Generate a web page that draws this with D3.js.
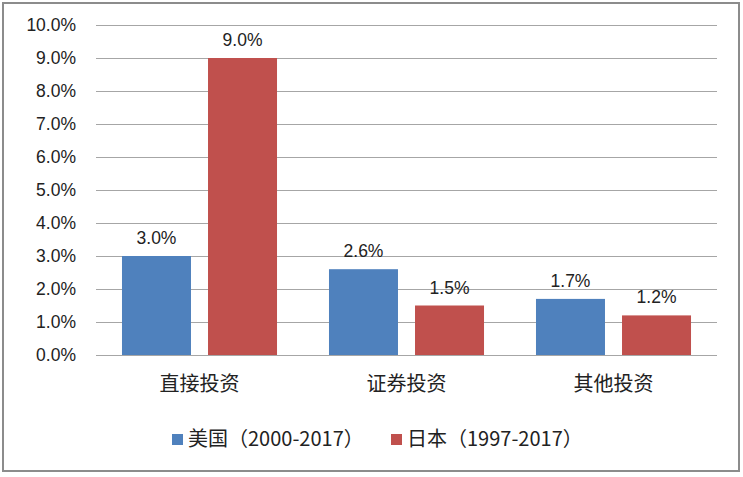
<!DOCTYPE html>
<html><head><meta charset="utf-8">
<script src="https://cdn.jsdelivr.net/npm/d3@7"></script>
<style>
html,body{margin:0;padding:0;background:#fff;}
svg{display:block;}
text{font-family:"Liberation Sans","Noto Sans CJK SC",sans-serif;fill:#222;}
</style></head>
<body>
<svg id="chart" width="743" height="477"></svg>
<script>
const categories = ["直接投资", "证券投资", "其他投资"];
const seriesNames = ["美国（2000-2017）", "日本（1997-2017）"];
const usValues = [3.0, 2.6, 1.7];
const jpValues = [9.0, 1.5, 1.2];
const yTicks = [0,1,2,3,4,5,6,7,8,9,10];
const colors = ["#4f81bd", "#c0504d"];

const svg = d3.select("#chart");
const W = 743, H = 477;
// outer border
svg.append("rect").attr("x",3).attr("y",3).attr("width",736).attr("height",468)
  .attr("fill","#fff").attr("stroke","#8c8c8c").attr("stroke-width",2);

const m = {left:96, right:26, top:25, bottom:122};
const x0 = d3.scaleBand().domain(categories).range([m.left, W-m.right]).paddingInner(0).paddingOuter(0);
const x1 = d3.scaleBand().domain([0,1]).range([0, x0.bandwidth()]).paddingInner(0.198).paddingOuter(0.302);
const y = d3.scaleLinear().domain([0,10]).range([H-m.bottom, m.top]);

// gridlines
svg.append("g").selectAll("line").data(yTicks).join("line")
  .attr("x1", m.left).attr("x2", W-m.right)
  .attr("y1", d=>Math.round(y(d))+0.5).attr("y2", d=>Math.round(y(d))+0.5)
  .attr("stroke","#a6a6a6").attr("stroke-width",1);

// y axis labels
const yAxis = d3.axisLeft(y).tickValues(yTicks).tickFormat(d=>d.toFixed(1)+"%").tickSize(0).tickPadding(20);
const ya = svg.append("g").attr("transform",`translate(${m.left},0)`).call(yAxis);
ya.select(".domain").remove();
ya.selectAll("text").attr("font-size",17.5).style("font-family","Liberation Sans, sans-serif").attr("fill","#222");

// bars
const data = categories.map((c,i)=>({cat:c, vals:[usValues[i], jpValues[i]]}));
const g = svg.append("g");
data.forEach(d=>{
  d.vals.forEach((v,j)=>{
    const bx = x0(d.cat)+x1(j);
    g.append("rect").attr("x",bx).attr("width",x1.bandwidth())
      .attr("y",y(v)).attr("height",y(0)-y(v)).attr("fill",colors[j]);
    g.append("text").attr("x",bx+x1.bandwidth()/2).attr("y",y(v)-12)
      .attr("text-anchor","middle").attr("font-size",17.5).text(v.toFixed(1)+"%");
  });
});

// x axis baseline
svg.append("line").attr("x1",m.left).attr("x2",W-m.right)
  .attr("y1",Math.round(y(0))+0.5).attr("y2",Math.round(y(0))+0.5).attr("stroke","#a6a6a6");

// category labels
const xAxis = d3.axisBottom(x0).tickSize(0).tickPadding(22);
const xa = svg.append("g").attr("transform",`translate(0,${y(0)})`).call(xAxis);
xa.select(".domain").remove();
xa.selectAll("text").attr("font-size",20).style("font-family","Noto Sans CJK SC, sans-serif").attr("fill","#222");

// legend
const legX = [172, 391];
seriesNames.forEach((s,i)=>{
  const lg = svg.append("g").attr("transform",`translate(${legX[i]},434)`);
  lg.append("rect").attr("width",11).attr("height",11).attr("fill",colors[i]);
  lg.append("text").attr("x",16).attr("y",12).attr("font-size",20)
    .style("font-family","Noto Sans CJK SC, sans-serif").text(s);
});
</script>
</body></html>
